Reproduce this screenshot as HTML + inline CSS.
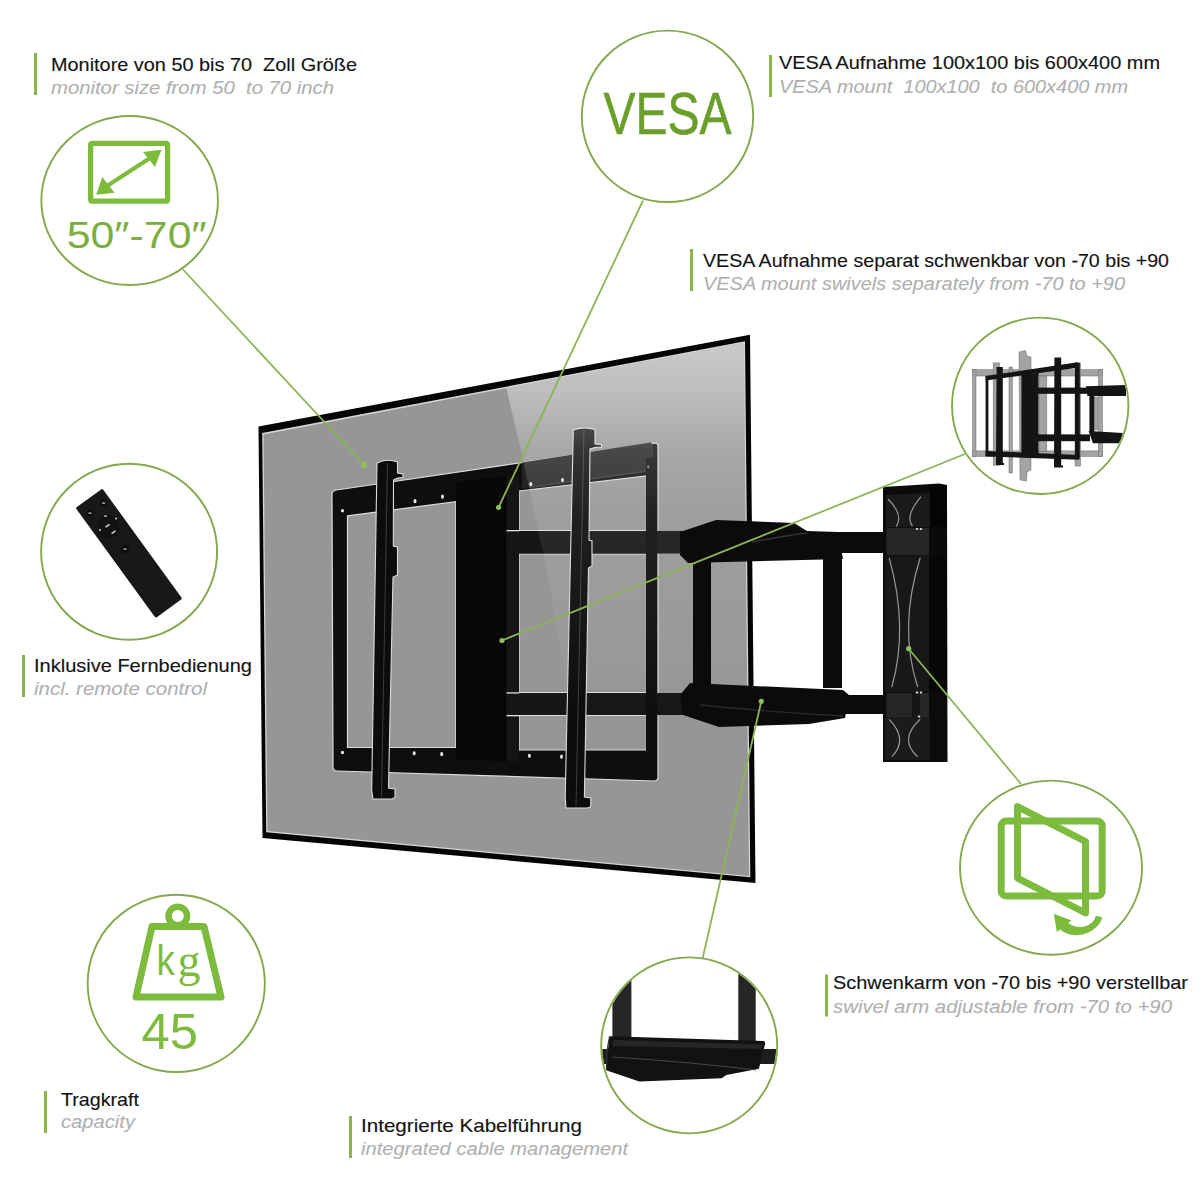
<!DOCTYPE html>
<html><head><meta charset="utf-8">
<style>
html,body{margin:0;padding:0;background:#fff;}
body{width:1200px;height:1200px;overflow:hidden;position:relative;}
svg{position:absolute;left:0;top:0;}
.t1{white-space:pre;font-family:"Liberation Sans",sans-serif;font-size:19px;fill:#141414;stroke:#141414;stroke-width:0.15px;}
.t2{white-space:pre;font-family:"Liberation Sans",sans-serif;font-size:19px;font-style:italic;fill:#b0b0b0;stroke:#b0b0b0;stroke-width:0.1px;}
</style></head>
<body>
<svg width="1200" height="1200" viewBox="0 0 1200 1200">
<defs>
  <linearGradient id="hl" gradientUnits="userSpaceOnUse" x1="0" y1="340" x2="0" y2="720">
    <stop offset="0" stop-color="#fff" stop-opacity="0.50"/>
    <stop offset="0.12" stop-color="#fff" stop-opacity="0.40"/>
    <stop offset="0.29" stop-color="#fff" stop-opacity="0.17"/>
    <stop offset="0.47" stop-color="#fff" stop-opacity="0.08"/>
    <stop offset="0.8" stop-color="#fff" stop-opacity="0.035"/>
    <stop offset="1" stop-color="#fff" stop-opacity="0"/>
  </linearGradient>
  <clipPath id="tvclip"><polygon points="263.5,434.5 743.8,342.7 749,876 267.5,831"/></clipPath>
  <clipPath id="c7"><circle cx="1040.2" cy="405.8" r="87.3"/></clipPath>
  <clipPath id="c5"><circle cx="689.2" cy="1045.4" r="87.1"/></clipPath>
</defs>

<!-- ============ TV ============ -->
<polygon points="258.5,426.5 750,334.7 755.5,883 262.5,838" fill="#050505"/>
<polygon points="262.2,433 745,341.2 750.3,877.3 266.2,832.3" fill="#d6d6d6"/>
<polygon points="263.5,434.5 743.8,342.7 749,876 267.5,831" fill="#969696"/>


<!-- ============ MOUNT (inside TV) ============ -->
<!-- frame -->
<path fill-rule="evenodd" d="M336.5,490 L655,443 Q658,443 658,446 L658,777 Q658,781 654,781 L337,771 Q333,771 333,767 L332,494 Q332,491 336.5,490 Z
 M347.5,515.8 L455.8,501.7 L455.8,747.5 L347.5,747.5 Z
 M519,491 L646.5,476 L646.5,530.5 L519,530.5 Z
 M519,554 L646.5,554 L646.5,692.5 L519,692.5 Z
 M519,715.5 L646.5,715.5 L646.5,750 L519,750 Z" fill="#0e0e0e" stroke="#dcdcdc" stroke-width="1.2"/>
<!-- top-right bar face -->
<polygon points="522,462.5 650.5,442.5 653,444.5 653,457.5 657,458 657,470 529,487.5 522,489" fill="#232323"/>
<polygon points="529,486.5 657,469 657,470.5 529,488" fill="#3a3a3a"/>
<g fill="#0e0e0e">
  <!-- central block -->
  <polygon points="456,482 503,476 503,761 456,760" fill="#080808"/>
  <rect x="503" y="476" width="3.5" height="285" fill="#050505"/>
  <rect x="506.5" y="477" width="12.5" height="284" fill="#151515"/>
  <!-- arms inside TV -->
  <rect x="506.5" y="531" width="250" height="22.5" fill="#161616"/>
  <rect x="506.5" y="693" width="250" height="22" fill="#161616"/>
  <rect x="506.5" y="530" width="12.5" height="1.3" fill="#e0e0e0"/>
  <rect x="506.5" y="692.3" width="12.5" height="1.3" fill="#e0e0e0"/>
  <rect x="506.5" y="715" width="12.5" height="1.3" fill="#e0e0e0"/>
  <!-- right frame vertical -->
  <rect x="646" y="458" width="11" height="294"/>
</g>
<!-- holes -->
<g fill="#e8e8e8">
  <ellipse cx="342.5" cy="510.8" rx="1.6" ry="1.8"/>
  <ellipse cx="415" cy="501.2" rx="1.5" ry="2.1"/>
  <ellipse cx="442.5" cy="496.7" rx="1.5" ry="2.1"/>
  <ellipse cx="530.8" cy="484.2" rx="1.5" ry="2.1"/>
  <ellipse cx="562.5" cy="480" rx="1.5" ry="2.1"/>
  <ellipse cx="648.3" cy="466.7" rx="1.2" ry="1.5" fill="#777"/>
  <ellipse cx="342.5" cy="752.5" rx="1.6" ry="1.8"/>
  <ellipse cx="414.2" cy="753.3" rx="1.5" ry="2.1"/>
  <ellipse cx="441.7" cy="754.2" rx="1.5" ry="2.1"/>
  <ellipse cx="529.4" cy="755.8" rx="1.5" ry="2.1"/>
  <ellipse cx="561.5" cy="756.7" rx="1.5" ry="2.1"/>
</g>
<g fill="#0c0c0c" stroke="#dcdcdc" stroke-width="1.1">
  <!-- vesa strip left -->
  <path d="M377,463 Q387,458 397.5,462 L397.5,473 L403,474 L403,477.5 L397.5,478 L393.5,480 L393.3,546 L397.5,547 L397.5,575 L393,577 L388.5,788 L395,789 L395,797 Q394,799 391,799 L373,799 L371.7,790 L377,463 Z"/>
  <!-- vesa strip right -->
  <path d="M573.3,430 Q584,426 595,429.5 L595,444 L601.5,444.5 L601.5,447 L595,447.5 L590,449 L589,540 L592,541 L592,566 L588.5,568 L584.4,797 L590.8,798 L590.8,806 Q590,808 587,808 L566,808 L565.2,797 L573.3,430 Z"/>
</g>
<g fill="none" stroke="#3c3c3c" stroke-width="1">
  <line x1="387.5" y1="463" x2="381.5" y2="797"/>
  <line x1="584" y1="430" x2="576" y2="806"/>
</g>
<!-- reflection overlay -->
<g clip-path="url(#tvclip)">
  <polygon points="506,386 746,341 750,730 575,730 567,690 548,576 523,460" fill="url(#hl)"/>
</g>

<!-- ============ ARMS outside TV ============ -->
<g fill="#0b0b0b">
  <polygon points="680,532 716,520 794,523 807,531 838,532 843,559 688,563 680,555"/>
  <polygon points="838,532 887,532 887,553 838,553"/>
  <polygon points="693,560 711,560 711,685 693,685"/>
  <polygon points="823,557 842,557 842,688 823,688"/>
  <polygon points="690,683 843,690 849,695 845,718 809,724 719,727 683,715 680,695"/>
  <polygon points="845,695 887,695 887,714 845,714"/>
  <path d="M752,542 Q790,535 807,533" stroke="#333" stroke-width="1.3" fill="none"/>
  <path d="M700,705 Q770,712 843,716" stroke="#2a2a2a" stroke-width="1.3" fill="none"/>
  <!-- wall plate -->
  <polygon points="883,487 939,483.5 947,485 947.5,762 883,762"/>
</g>
<g>
  <!-- top block -->
  <polygon points="886,495 930,493 930,527 886,527" fill="#1b1b1b"/>
  <polygon points="930,488 946,485 947,527 930,527" fill="#050505"/>
  <!-- joint upper -->
  <rect x="886.5" y="528" width="42.5" height="27" fill="#262626"/>
  <rect x="929" y="528" width="18" height="27" fill="#0a0a0a"/>
  <!-- middle -->
  <rect x="885" y="555.5" width="44" height="136.5" fill="#181818"/>
  <rect x="929" y="555.5" width="18" height="136.5" fill="#070707"/>
  <!-- joint lower -->
  <rect x="886.5" y="693" width="42.5" height="24" fill="#262626"/>
  <rect x="912" y="693" width="8" height="24" fill="#151515"/>
  <!-- bottom block -->
  <polygon points="885,717 930,717 930,760 885,760" fill="#1b1b1b"/>
  <g fill="none" stroke="#979797" stroke-width="1.2">
    <path d="M888,499 Q904.2,515.15 896,526.7"/>
    <path d="M921,496.7 Q904.5,516.65 912.4,526"/>
    <path d="M889.2,557.8 Q908.7,627.6 891.8,687"/>
    <path d="M920.2,557.8 Q898.25,627.6 917.7,687"/>
    <path d="M889.2,719.3 Q908.7,739.4 891.8,756.7"/>
    <path d="M920.2,719.3 Q898.25,739.4 917.7,756.7"/>
  </g>
  <g fill="#e0e0e0">
    <ellipse cx="917" cy="529" rx="1.3" ry="1"/>
    <ellipse cx="921" cy="529" rx="1.3" ry="1"/>
    <ellipse cx="917" cy="692.5" rx="1.3" ry="1"/>
    <ellipse cx="921" cy="692.5" rx="1.3" ry="1"/>
    <ellipse cx="919" cy="716.5" rx="1.3" ry="1"/>
  </g>
</g>

<!-- ============ MINI MOUNT (top-right circle) ============ -->
<g clip-path="url(#c7)">
  <g fill="#a3a3a3" stroke="#6a6a6a" stroke-width="0.5">
    <rect x="972.6" y="369.7" width="129.9" height="6.3"/>
    <rect x="972.6" y="450.9" width="129.9" height="5.5"/>
    <rect x="972.6" y="369.7" width="3.4" height="86.7"/>
    <rect x="1098.4" y="369.7" width="4.1" height="86.7"/>
    <rect x="993.2" y="362.9" width="6.2" height="102.4"/>
    <rect x="1009" y="367" width="3.4" height="106"/>
    <polygon points="1019,352 1025.5,350.5 1027,356 1031,357 1031,470 1027,472 1026.5,481 1020,480"/>
    <rect x="1039.2" y="376" width="7.6" height="75.6"/>
    <rect x="1075" y="362.9" width="5.5" height="103.1"/>
    <rect x="1094" y="397" width="3.7" height="33"/>
  </g>
  <g fill="#141414">
    <polygon points="985.6,376 1077.7,362.2 1077.7,367.7 985.6,380.5"/>
    <polygon points="985.6,450.9 1079,455 1079,459.8 985.6,456.4"/>
    <rect x="985.6" y="376" width="2.8" height="80"/>
    <rect x="1021.4" y="374" width="14" height="79.6"/>
    <rect x="1035" y="371" width="3.6" height="83"/>
    <polygon points="996.6,367 1002.8,367 1002.8,463 1004,463 1004,465 996,465"/>
    <polygon points="1054.4,357.4 1061.2,357.4 1061.2,465.5 1063,465.5 1063,467.4 1054,467.4"/>
    <rect x="1075" y="362.9" width="4.8" height="96"/>
    <rect x="1035" y="387.6" width="52" height="6.2"/>
    <polygon points="1086,386.2 1126,384.9 1126,395.9 1087.4,395.9"/>
    <rect x="1035" y="434.4" width="55" height="6.8"/>
    <polygon points="1088.7,431 1123,433 1120.4,443.3 1092.9,443.3"/>
    <rect x="1089.4" y="395" width="4.8" height="38"/>
  </g>
</g>

<!-- ============ CABLE IMAGE (bottom circle) ============ -->
<g clip-path="url(#c5)">
  <rect x="612.4" y="955" width="19" height="85" fill="#262626"/>
  <rect x="738.3" y="973.7" width="17.4" height="68" fill="#262626"/>
  <rect x="598" y="1049" width="182" height="15" fill="#1d1d1d"/>
  <polygon points="609.3,1036.3 764.4,1041 765.2,1043.4 758.9,1068.7 726.4,1075.1 721.7,1078.2 639.3,1081.4 606.1,1070.3" fill="#121212"/>
  <polygon points="614,1040 762,1044.5 761,1049 612,1046" fill="#262626"/>
  <path d="M612,1057 Q690,1062 756,1070" stroke="#4a4a4a" stroke-width="1" fill="none"/>
  <path d="M609.5,1037 Q606,1052 606.5,1070" stroke="#333" stroke-width="1.2" fill="none"/>
</g>

<!-- ============ CIRCLES ============ -->
<g fill="none" stroke="#84a84c" stroke-width="1.9">
  <ellipse cx="129.65" cy="200.5" rx="88.3" ry="84.5"/>
  <circle cx="667.5" cy="116.35" r="85.7"/>
  <circle cx="129.1" cy="551.75" r="88"/>
  <circle cx="176.25" cy="983.4" r="88.6"/>
  <circle cx="689.2" cy="1045.4" r="88"/>
  <ellipse cx="1051" cy="867.7" rx="91" ry="87.1"/>
  <circle cx="1040.2" cy="405.8" r="88.2"/>
</g>

<!-- ============ LEADER LINES ============ -->
<g stroke="#8ab555" stroke-width="1.8" fill="none">
  <line x1="183" y1="269.5" x2="364.3" y2="465"/>
  <line x1="643" y1="200.5" x2="498.5" y2="507.5"/>
  <line x1="965" y1="454" x2="502" y2="640.5"/>
  <line x1="1021" y1="784" x2="908.7" y2="648.7"/>
  <line x1="702.7" y1="958" x2="761.3" y2="701.3"/>
</g>
<g fill="#8ec05a">
  <circle cx="364.3" cy="465" r="3"/>
  <circle cx="498.5" cy="507.5" r="2.6"/>
  <circle cx="502" cy="640.5" r="2.6"/>
  <circle cx="908.7" cy="648.7" r="2.6"/>
  <circle cx="761.3" cy="701.3" r="2.6"/>
</g>

<!-- ============ ICONS ============ -->
<!-- monitor size -->
<g fill="none" stroke="#7dbb3c" stroke-width="5.3">
  <rect x="90.6" y="143.4" width="77" height="57.8" rx="1.5"/>
</g>
<g stroke="#7dbb3c" stroke-width="4" fill="#7dbb3c">
  <line x1="107" y1="186" x2="150" y2="158"/>
</g>
<polygon points="161.5,149.8 143,152 155,167" fill="#7dbb3c"/>
<polygon points="96.2,194.7 114.6,192.8 102.3,177" fill="#7dbb3c"/>
<text x="66.7" y="248" font-family="Liberation Sans" font-size="37" fill="#7aaf3e" textLength="140" lengthAdjust="spacingAndGlyphs">50″-70″</text>

<!-- VESA -->
<text x="603.5" y="133.5" font-family="Liberation Sans" font-size="58.5" fill="#6a9f2c" stroke="#6a9f2c" stroke-width="0.6" textLength="128" lengthAdjust="spacingAndGlyphs">VESA</text>

<!-- remote -->
<g transform="translate(129,553.3) rotate(-36)">
  <rect x="-16.5" y="-68" width="33" height="136" rx="1.5" fill="#181818"/>
</g>
<g>
  <circle cx="108" cy="527" r="11.5" fill="#111"/>
  <circle cx="90" cy="513" r="3.2" fill="#0c0c0c"/>
  <circle cx="103.5" cy="503" r="3.2" fill="#0c0c0c"/>
  <circle cx="125" cy="549" r="4.3" fill="#0c0c0c"/>
  <g fill="#d0d0d0">
    <rect x="88.5" y="512.5" width="3" height="1.2"/>
    <rect x="102" y="502.5" width="3" height="1.2"/>
    <rect x="104" y="515.5" width="3" height="1.2"/>
    <circle cx="116" cy="518.5" r="1"/>
    <circle cx="100" cy="530" r="1"/>
    <rect x="105" y="525" width="5" height="1.5" transform="rotate(-36 107.5 525.7)"/>
    <rect x="111" y="531.5" width="5" height="1.5" transform="rotate(-36 113.5 532.2)"/>
    <rect x="123.5" y="548.5" width="3" height="1.2"/>
  </g>
</g>

<!-- weight -->
<g fill="none" stroke="#7dbb3c" stroke-width="7" stroke-linejoin="round">
  <circle cx="177.8" cy="916" r="9.3" stroke-width="6.5"/>
  <polygon points="152,926.5 204,926.5 221,997 136,997"/>
</g>
<text x="156.5" y="975.5" font-family="Liberation Sans" font-size="43" fill="#7dbb3c" transform="translate(156.5 975.5) scale(0.85 1) translate(-156.5 -975.5)">k</text>
<text x="177.5" y="975.5" font-family="Liberation Serif" font-size="46" fill="#7dbb3c">g</text>
<text x="141.5" y="1048.7" font-family="Liberation Sans" font-size="50" fill="#7dbb3c" textLength="56.5" lengthAdjust="spacingAndGlyphs">45</text>

<!-- swivel -->
<g fill="none" stroke="#7dbb3c" stroke-width="7" stroke-linejoin="round">
  <rect x="1001.2" y="821" width="101" height="75" rx="5"/>
  <polygon points="1017.5,806.5 1085.5,841.5 1085.5,913 1017.5,878"/>
</g>
<path d="M1102.2,917.2 C1099,932 1075,942 1060,929.4 L1067.5,922.5 C1078,931 1093,927 1095.8,915.8 Z" fill="#7dbb3c"/>
<polygon points="1053.75,913.75 1071.5,920.6 1056.9,931.9" fill="#7dbb3c"/>

<!-- ============ TEXTS ============ -->
<g fill="#8ab54a">
  <rect x="34" y="53" width="3" height="42"/>
  <rect x="769" y="55" width="3" height="42"/>
  <rect x="690" y="249" width="3" height="42"/>
  <rect x="22" y="655" width="3" height="42"/>
  <rect x="44" y="1091" width="3" height="42"/>
  <rect x="349" y="1116" width="3" height="42"/>
  <rect x="825" y="974.5" width="3" height="42"/>
</g>
<text class="t1" x="51" y="71" textLength="306" lengthAdjust="spacingAndGlyphs">Monitore von 50 bis 70  Zoll Größe</text>
<text class="t2" x="51" y="94" textLength="283" lengthAdjust="spacingAndGlyphs">monitor size from 50  to 70 inch</text>

<text class="t1" x="779" y="69" textLength="381" lengthAdjust="spacingAndGlyphs">VESA Aufnahme 100x100 bis 600x400 mm</text>
<text class="t2" x="779" y="93" textLength="349" lengthAdjust="spacingAndGlyphs">VESA mount  100x100  to 600x400 mm</text>

<text class="t1" x="703" y="267" textLength="466" lengthAdjust="spacingAndGlyphs">VESA Aufnahme separat schwenkbar von -70 bis +90</text>
<text class="t2" x="703" y="290" textLength="422" lengthAdjust="spacingAndGlyphs">VESA mount swivels separately from -70 to +90</text>

<text class="t1" x="34" y="672" textLength="218" lengthAdjust="spacingAndGlyphs">Inklusive Fernbedienung</text>
<text class="t2" x="34" y="695" textLength="173" lengthAdjust="spacingAndGlyphs">incl. remote control</text>

<text class="t1" x="61" y="1106" textLength="78" lengthAdjust="spacingAndGlyphs">Tragkraft</text>
<text class="t2" x="61" y="1128" textLength="74" lengthAdjust="spacingAndGlyphs">capacity</text>

<text class="t1" x="361" y="1132" textLength="221" lengthAdjust="spacingAndGlyphs">Integrierte Kabelführung</text>
<text class="t2" x="361" y="1155" textLength="267" lengthAdjust="spacingAndGlyphs">integrated cable management</text>

<text class="t1" x="833" y="989" textLength="355" lengthAdjust="spacingAndGlyphs">Schwenkarm von -70 bis +90 verstellbar</text>
<text class="t2" x="833" y="1013" textLength="339" lengthAdjust="spacingAndGlyphs">swivel arm adjustable from -70 to +90</text>

</svg>
</body></html>
